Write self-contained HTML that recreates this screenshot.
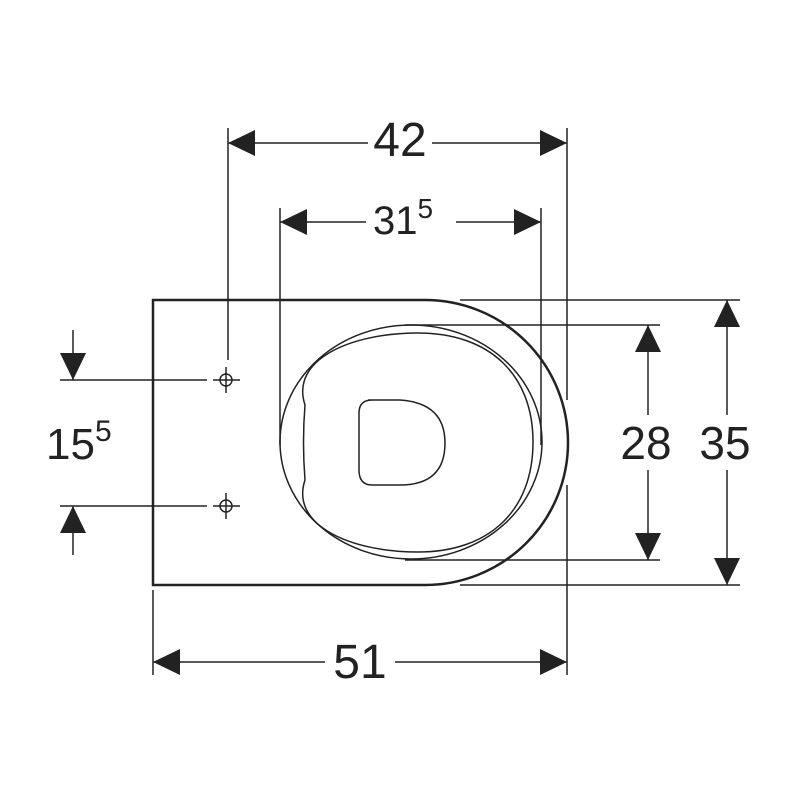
<!DOCTYPE html>
<html><head><style>body{margin:0;background:#fff}svg{display:block}text{font-family:"Liberation Sans",sans-serif;fill:#222}</style></head>
<body>
<svg width="800" height="800" viewBox="0 0 800 800" xmlns="http://www.w3.org/2000/svg">
<g stroke="#222" fill="none">
<path d="M153 585 V300 H425 A143 142.5 0 0 1 425 585 Z" stroke-width="2.5"/>
<ellipse cx="411" cy="442" rx="131" ry="117" stroke-width="1.5"/>
<path d="M305 405 C290 360 350 333 418 333 C490 333 533 375 533 442 C533 510 490 552 418 552 C350 552 290 525 305 480 Q302 442 305 405 Z" stroke-width="1.5"/>
<path d="M368 400 H400 Q445 403 445 443 Q445 485 400 485 H372 Q359 485 359 470 V413 Q359 400 372 400 Z" stroke-width="1.5"/>
<g stroke-width="1.5">
<line x1="228" y1="128" x2="228" y2="360"/>
<line x1="567" y1="128" x2="567" y2="400"/>
<line x1="567" y1="485" x2="567" y2="675"/>
<line x1="280" y1="208" x2="280" y2="445"/>
<line x1="541" y1="208" x2="541" y2="445"/>
<line x1="153" y1="590" x2="153" y2="675"/>
<line x1="405" y1="325" x2="660" y2="325"/>
<line x1="405" y1="560" x2="660" y2="560"/>
<line x1="460" y1="300" x2="740" y2="300"/>
<line x1="460" y1="585" x2="740" y2="585"/>
<line x1="60" y1="380" x2="207" y2="380"/>
<line x1="60" y1="506" x2="207" y2="506"/>
<line x1="228" y1="143" x2="368" y2="143"/>
<line x1="432" y1="143" x2="567" y2="143"/>
<line x1="280" y1="222" x2="366" y2="222"/>
<line x1="456" y1="222" x2="541" y2="222"/>
<line x1="153" y1="662" x2="325" y2="662"/>
<line x1="395" y1="662" x2="567" y2="662"/>
<line x1="648" y1="325" x2="648" y2="415"/>
<line x1="648" y1="470" x2="648" y2="560"/>
<line x1="727" y1="300" x2="727" y2="415"/>
<line x1="727" y1="470" x2="727" y2="585"/>
<line x1="73" y1="330" x2="73" y2="380"/>
<line x1="73" y1="506" x2="73" y2="555"/>
<line x1="213" y1="380" x2="240" y2="380"/><line x1="226" y1="367" x2="226" y2="393"/>
<line x1="213" y1="506" x2="240" y2="506"/><line x1="226" y1="493" x2="226" y2="519"/>
</g>
<circle cx="226" cy="380" r="6" stroke-width="1.5"/>
<circle cx="226" cy="506" r="6" stroke-width="1.5"/>
</g>
<g fill="#222">
<polygon points="228,143 255,130 255,156"/>
<polygon points="567,143 540,130 540,156"/>
<polygon points="280,222 307,209 307,235"/>
<polygon points="541,222 514,209 514,235"/>
<polygon points="153,662 180,649 180,675"/>
<polygon points="567,662 540,649 540,675"/>
<polygon points="648,325 635,352 661,352"/>
<polygon points="648,560 635,533 661,533"/>
<polygon points="727,300 714,327 740,327"/>
<polygon points="727,585 714,558 740,558"/>
<polygon points="73,380 60,353 86,353"/>
<polygon points="73,506 60,533 86,533"/>
</g>
<text x="400" y="156" font-size="48" text-anchor="middle">42</text>
<text x="373" y="234" font-size="40">31<tspan font-size="28" dy="-16">5</tspan></text>
<text x="360" y="678" font-size="48" text-anchor="middle">51</text>
<text x="646" y="459" font-size="46" text-anchor="middle">28</text>
<text x="725" y="459" font-size="46" text-anchor="middle">35</text>
<text x="46" y="459" font-size="44">15<tspan font-size="30" dy="-18">5</tspan></text>
</svg>
</body></html>
